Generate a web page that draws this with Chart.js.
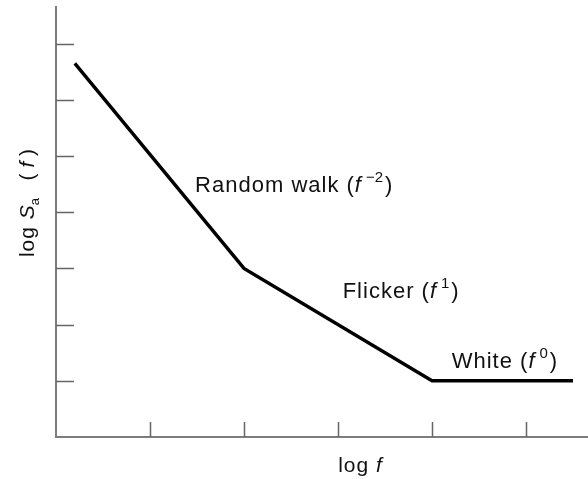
<!DOCTYPE html>
<html>
<head>
<meta charset="utf-8">
<script src="https://cdn.jsdelivr.net/npm/chart.js@4.4.1/dist/chart.umd.min.js"></script>
<style>
html,body{margin:0;padding:0;background:#fff;}
#wrap{width:588px;height:479px;position:relative;}
</style>
</head>
<body>
<div id="wrap"><canvas id="c"></canvas></div>
<script>
// Data (log f, log S_a(f)) in arbitrary units
const logF = [0.2, 2.0, 4.0, 5.5];
const logS = [6.65, 3.0, 1.0, 1.0];
const xTicks = [1, 2, 3, 4, 5];
const yTicks = [1, 2, 3, 4, 5, 6, 7];
// Region labels: name, exponent, anchor in data units
const labelNames = ['Random walk', 'Flicker', 'White'];
const labelExps = ['\u22122', '1', '0'];
const labelX = [1.48, 3.05, 4.21];
const labelY = [4.36, 2.47, 1.23];

const FONT = '"Liberation Sans", Arial, Helvetica, sans-serif';
const AXIS_COLOR = '#7d7d7d';

function setFont(ctx, f, ls) {
  ctx.font = f + FONT;
  ctx.letterSpacing = (ls || 0) + 'px';
}

const decor = {
  id: 'decor',
  afterDraw(chart) {
    const ctx = chart.ctx;
    const xs = chart.scales.x, ys = chart.scales.y;
    const a = chart.chartArea;
    ctx.save();
    // axes
    ctx.strokeStyle = AXIS_COLOR;
    ctx.lineWidth = 2;
    ctx.beginPath();
    ctx.moveTo(a.left, a.top);
    ctx.lineTo(a.left, a.bottom);
    ctx.lineTo(a.right, a.bottom);
    ctx.stroke();
    // inward ticks
    ctx.strokeStyle = '#666';
    ctx.lineWidth = 1.5;
    ctx.beginPath();
    yTicks.forEach(v => {
      const y = Math.round(ys.getPixelForValue(v)) + 0.5;
      ctx.moveTo(a.left, y); ctx.lineTo(a.left + 18, y);
    });
    xTicks.forEach(v => {
      const x = Math.round(xs.getPixelForValue(v)) + 0.5;
      ctx.moveTo(x, a.bottom); ctx.lineTo(x, a.bottom - 15);
    });
    ctx.stroke();

    ctx.fillStyle = '#111';
    ctx.textBaseline = 'alphabetic';
    // region labels
    labelNames.forEach((name, i) => {
      let x = xs.getPixelForValue(labelX[i]);
      const y = ys.getPixelForValue(labelY[i]);
      setFont(ctx, '22px ', 1);
      ctx.fillText(name + ' (', x, y);
      x += ctx.measureText(name + ' (').width;
      setFont(ctx, 'italic 22px ', 0);
      ctx.fillText('f', x, y);
      x += ctx.measureText('f').width + 5;
      setFont(ctx, '15px ', 0);
      ctx.fillText(labelExps[i], x, y - 10);
      x += ctx.measureText(labelExps[i]).width + 2;
      setFont(ctx, '22px ', 0);
      ctx.fillText(')', x, y);
    });

    // x title: log f
    setFont(ctx, '21px ', 1);
    const w1 = ctx.measureText('log ').width;
    setFont(ctx, 'italic 21px ', 0);
    const w2 = ctx.measureText('f').width;
    let tx = 360 - (w1 + w2) / 2;
    setFont(ctx, '21px ', 1);
    ctx.fillText('log ', tx, 472);
    setFont(ctx, 'italic 21px ', 0);
    ctx.fillText('f', tx + w1, 472);

    // y title: log S_a (f), rotated
    ctx.translate(34, 203);
    ctx.rotate(-Math.PI / 2);
    const parts = [
      ['log ', '21px ', 0, 1],
      ['S', 'italic 21px ', 0, 0],
      ['a', '13px ', 5, 0],
      ['   (', '21px ', 0, 0],
      [' f ', 'italic 21px ', 0, 0],
      [')', '21px ', 0, 0]
    ];
    let total = 0;
    parts.forEach(p => { setFont(ctx, p[1], p[3]); total += ctx.measureText(p[0]).width; });
    let px = -total / 2;
    parts.forEach(p => {
      setFont(ctx, p[1], p[3]);
      ctx.fillText(p[0], px, p[2]);
      px += ctx.measureText(p[0]).width;
    });
    ctx.restore();
  }
};

new Chart(document.getElementById('c'), {
  type: 'line',
  data: {
    datasets: [{
      data: logF.map((x, i) => ({ x: x, y: logS[i] })),
      borderColor: '#000',
      borderWidth: 3.4,
      pointRadius: 0,
      tension: 0,
      fill: false
    }]
  },
  options: {
    responsive: true,
    maintainAspectRatio: false,
    animation: false,
    layout: { padding: { left: 56, top: 6, right: 0, bottom: 42 } },
    plugins: { legend: { display: false }, tooltip: { enabled: false } },
    scales: {
      x: {
        type: 'linear', min: 0, max: 5.66,
        ticks: { display: false },
        grid: { display: false, drawTicks: false },
        border: { display: false }
      },
      y: {
        type: 'linear', min: 0, max: 7.67,
        ticks: { display: false },
        grid: { display: false, drawTicks: false },
        border: { display: false }
      }
    }
  },
  plugins: [decor]
});
</script>
</body>
</html>
